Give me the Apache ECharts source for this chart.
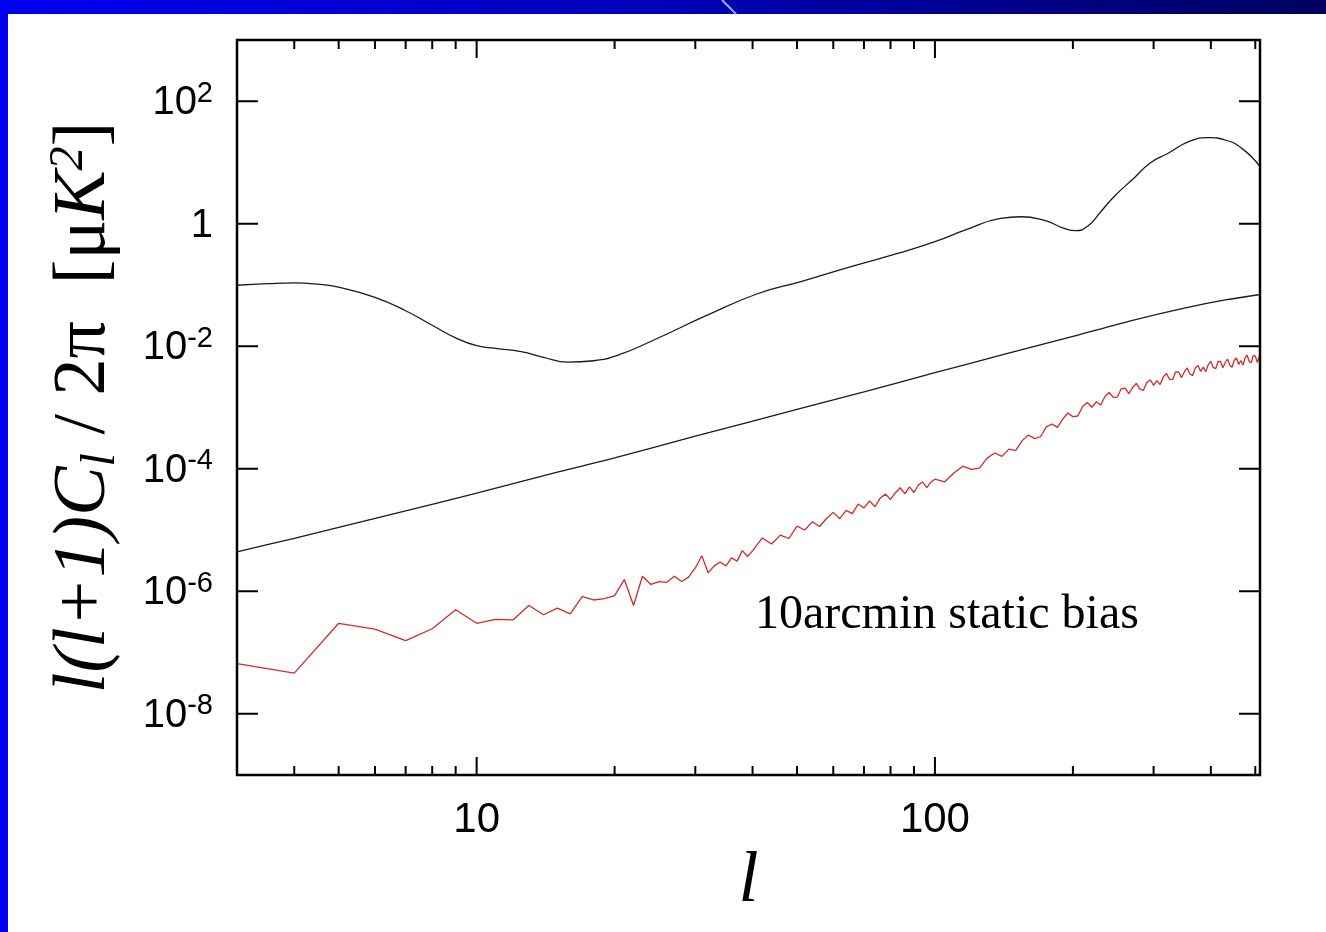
<!DOCTYPE html>
<html><head><meta charset="utf-8">
<script src="https://cdn.jsdelivr.net/npm/echarts@6/dist/echarts.min.js"></script>
<style>html,body{margin:0;padding:0;background:#fff}#c{width:1326px;height:932px}</style>
</head><body><div id="c"></div>
<script>
// ---- axis ranges and ticks ----
const X_MIN = 3, X_MAX = 512, Y_MIN = 1e-9, Y_MAX = 1e3;
const X_MAJOR_TICKS = [10, 100];
const X_MINOR_TICKS = [4, 5, 6, 7, 8, 9, 20, 30, 40, 50, 60, 70, 80, 90, 200, 300, 400, 500];
const Y_TICKS = [1e2, 1, 1e-2, 1e-4, 1e-6, 1e-8];
const Y_TICK_MANT = ['10', '1', '10', '10', '10', '10'];
const Y_TICK_EXP = ['2', '', '-2', '-4', '-6', '-8'];

// ---- upper black curve (signal spectrum) ----
const SIGNAL = [
  [3, 0.099], [3.5, 0.105], [4, 0.108], [4.5, 0.103], [5, 0.092], [6, 0.063], [7, 0.038], [8, 0.022],
  [9, 0.0137], [10, 0.0102], [11, 0.0092], [12.5, 0.0082], [14, 0.0066], [15.8, 0.0055], [18, 0.0058],
  [20.4, 0.0072], [24.5, 0.0129], [31.5, 0.031], [41, 0.072], [51, 0.114], [65.6, 0.20], [84, 0.337],
  [100, 0.51], [117, 0.80], [139, 1.22], [154, 1.30], [174, 1.12], [190, 0.86], [203, 0.77], [216, 0.93],
  [230, 1.57], [247, 2.86], [272, 5.6], [295, 9.85], [322, 14], [361, 22.5], [396, 25.4], [430, 23.3],
  [469, 16.7], [512, 8.6]
];

// ---- middle black line ----
const NOISE = [
  [3, 4.4e-6], [4, 7.3e-6], [5, 1.1e-5], [7, 2.05e-5], [10, 4.0e-5], [15, 8.8e-5], [20, 1.5e-4],
  [30, 3.4e-4], [50, 9.3e-4], [70, 1.8e-3], [100, 3.7e-3], [140, 7.2e-3], [200, 1.45e-2],
  [270, 2.65e-2], [350, 4.2e-2], [430, 5.7e-2], [512, 7.0e-2]
];

// ---- red curve: 10arcmin static bias ----
const BIAS = [
  [3, 6.6e-8], [4, 4.6e-8], [5, 3.0e-7], [6, 2.4e-7], [7, 1.56e-7], [8, 2.44e-7], [9, 5.0e-7], [10, 3.0e-7],
  [11, 3.47e-7], [12, 3.4e-7], [13, 5.85e-7], [14, 4.13e-7], [15, 5.3e-7], [16, 4.28e-7], [17, 8.2e-7],
  [18, 7.2e-7], [19, 7.6e-7], [20, 8.5e-7], [21, 1.55e-6], [22, 5.85e-7], [23, 1.76e-6], [24, 1.29e-6],
  [25, 1.44e-6], [26, 1.4e-6], [27, 1.76e-6], [28, 1.44e-6], [29, 1.7e-6], [30, 2.4e-6], [31, 3.8e-6],
  [32, 2.0e-6], [33, 2.6e-6], [34, 3.0e-6], [35, 2.6e-6], [36, 3.5e-6], [37, 3.1e-6], [38, 4.6e-6],
  [39, 3.7e-6], [40, 4.57e-6], [42, 7.41e-6], [44, 5.89e-6], [46, 8.26e-6], [48, 7.26e-6], [50, 1.16e-5],
  [52, 1.0e-5], [54, 1.36e-5], [56, 1.14e-5], [58, 1.54e-5], [60, 1.94e-5], [62, 1.53e-5], [64, 2.09e-5],
  [66, 1.85e-5], [68, 2.65e-5], [70, 2.29e-5], [72, 2.99e-5], [74, 2.40e-5], [76, 3.34e-5], [78, 3.85e-5],
  [80, 3.15e-5], [82, 4.06e-5], [84, 4.90e-5], [86, 3.91e-5], [88, 5.05e-5], [90, 4.10e-5], [92, 5.42e-5],
  [94, 6.07e-5], [96, 4.93e-5], [98, 6.04e-5],
  [100, 6.76e-5], [105, 6.12e-5], [110, 8.53e-5], [115, 1.10e-4], [120, 9.77e-5], [125, 1.02e-4],
  [130, 1.49e-4], [135, 1.81e-4], [140, 1.59e-4], [145, 2.09e-4], [150, 1.98e-4], [155, 2.88e-4],
  [160, 3.56e-4], [165, 3.11e-4], [170, 3.33e-4], [175, 4.82e-4], [180, 5.37e-4], [185, 4.73e-4],
  [190, 6.44e-4], [195, 8.13e-4], [200, 7.10e-4], [205, 7.26e-4], [210, 1.04e-3], [215, 1.21e-3],
  [220, 1.01e-3], [225, 1.24e-3], [230, 1.10e-3], [235, 1.51e-3], [240, 1.76e-3], [245, 1.46e-3],
  [250, 1.48e-3], [255, 2.02e-3], [260, 2.08e-3], [265, 1.69e-3], [270, 2.12e-3], [275, 2.48e-3],
  [280, 2.00e-3], [285, 1.91e-3], [290, 2.55e-3], [295, 2.84e-3], [300, 2.30e-3], [305, 2.74e-3],
  [310, 2.37e-3], [315, 3.16e-3], [320, 3.59e-3], [325, 2.88e-3], [330, 2.85e-3], [335, 3.79e-3],
  [340, 3.83e-3], [345, 3.07e-3], [350, 3.81e-3], [355, 4.42e-3], [360, 3.53e-3], [365, 3.32e-3],
  [370, 4.41e-3], [375, 4.86e-3], [380, 3.89e-3], [385, 4.55e-3], [390, 3.85e-3], [395, 5.06e-3],
  [400, 5.64e-3], [405, 4.46e-3], [410, 4.32e-3], [415, 5.68e-3], [420, 5.64e-3], [425, 4.45e-3],
  [430, 5.43e-3], [435, 6.19e-3], [440, 4.89e-3], [445, 4.53e-3], [450, 5.92e-3], [455, 6.43e-3],
  [460, 5.05e-3], [465, 5.86e-3], [470, 4.94e-3], [475, 6.44e-3], [480, 7.14e-3], [485, 5.61e-3],
  [490, 5.42e-3], [495, 7.05e-3], [500, 6.97e-3], [505, 5.47e-3], [510, 6.65e-3], [512, 7.16e-3]
];

const ANNOTATION = '10arcmin static bias';

const chart = echarts.init(document.getElementById('c'), null, {renderer: 'canvas'});

const LABEL_FONT = '"Liberation Sans", Arial, sans-serif';
const SERIF = '"Liberation Serif", "Times New Roman", serif';

function xTickSeries(name, ticks, len) {
  return {
    type: 'custom', name: name, silent: true, clip: false, z: 6,
    data: ticks.map(v => [v, Y_MIN]),
    encode: {x: 0, y: 1},
    renderItem: function (params, api) {
      const b = api.coord([api.value(0), Y_MIN]);
      const t = api.coord([api.value(0), Y_MAX]);
      return {type: 'group', children: [
        {type: 'line', shape: {x1: b[0], y1: b[1], x2: b[0], y2: b[1] - len}, style: {stroke: '#000', lineWidth: 2}},
        {type: 'line', shape: {x1: t[0], y1: t[1], x2: t[0], y2: t[1] + len}, style: {stroke: '#000', lineWidth: 2}}
      ]};
    }
  };
}

const yTickSeries = {
  type: 'custom', name: 'yTicks', silent: true, clip: false, z: 6,
  data: Y_TICKS.map(v => [X_MIN, v]),
  encode: {x: 0, y: 1},
  renderItem: function (params, api) {
    const i = params.dataIndex;
    const l = api.coord([X_MIN, api.value(1)]);
    const r = api.coord([X_MAX, api.value(1)]);
    const txt = Y_TICK_EXP[i] ? '{m|' + Y_TICK_MANT[i] + '}{e|' + Y_TICK_EXP[i] + '}' : '{m|' + Y_TICK_MANT[i] + '}';
    return {type: 'group', children: [
      {type: 'line', shape: {x1: l[0], y1: l[1], x2: l[0] + 21, y2: l[1]}, style: {stroke: '#000', lineWidth: 2}},
      {type: 'line', shape: {x1: r[0], y1: r[1], x2: r[0] - 21, y2: r[1]}, style: {stroke: '#000', lineWidth: 2}},
      {type: 'text', x: l[0] - 24, y: l[1] + 2, style: {
        text: txt, align: 'right', verticalAlign: 'middle', fill: '#000',
        rich: {
          m: {fontSize: 40, fontFamily: LABEL_FONT, fill: '#000', lineHeight: 48},
          e: {fontSize: 29, fontFamily: LABEL_FONT, fill: '#000', lineHeight: 26, verticalAlign: 'top'}
        }
      }}
    ]};
  }
};

const option = {
  animation: false,
  backgroundColor: '#ffffff',
  grid: {left: 237, right: 66, top: 40, bottom: 157, show: true, borderColor: '#000', borderWidth: 2.5, backgroundColor: 'transparent', z: 5},
  xAxis: {
    type: 'log', logBase: 10, min: X_MIN, max: X_MAX,
    name: 'l', nameLocation: 'middle', nameGap: 70,
    nameTextStyle: {fontFamily: SERIF, fontStyle: 'italic', fontSize: 72, color: '#000'},
    axisLine: {show: false}, axisTick: {show: false}, splitLine: {show: false},
    axisLabel: {
      show: true, margin: 24, fontSize: 42, fontFamily: LABEL_FONT, color: '#000',
      showMinLabel: false, showMaxLabel: false,
      formatter: function (v) {
        for (const t of X_MAJOR_TICKS) { if (Math.abs(v - t) < 1e-6 * t) return String(t); }
        return '';
      }
    }
  },
  yAxis: {
    type: 'log', logBase: 10, min: Y_MIN, max: Y_MAX,
    name: '{it|l(l+1)C}{sub|l}{rm| / 2π  [μ}{it|K}{sup|2}{rm|]}',
    nameLocation: 'middle', nameRotate: 90, nameGap: 112,
    nameTextStyle: {
      color: '#000', fontSize: 74, fontFamily: SERIF,
      rich: {
        it: {fontFamily: SERIF, fontStyle: 'italic', fontSize: 74, color: '#000', lineHeight: 80},
        rm: {fontFamily: SERIF, fontSize: 74, color: '#000', lineHeight: 80},
        sub: {fontFamily: SERIF, fontStyle: 'italic', fontSize: 48, color: '#000', verticalAlign: 'bottom', lineHeight: 38},
        sup: {fontFamily: SERIF, fontStyle: 'italic', fontSize: 48, color: '#000', verticalAlign: 'top', lineHeight: 40}
      }
    },
    axisLine: {show: false}, axisTick: {show: false}, splitLine: {show: false}, axisLabel: {show: false}
  },
  graphic: [
    {type: 'rect', left: 0, top: 0, shape: {width: 8, height: 932}, style: {fill: '#0000ec'}, z: 100},
    {type: 'rect', left: 0, top: 0, shape: {width: 1326, height: 14}, style: {
      fill: new echarts.graphic.LinearGradient(0, 0, 1, 0, [{offset: 0, color: '#0000f0'}, {offset: 0.5, color: '#0000b8'}, {offset: 1, color: '#000060'}])
    }, z: 100},
    {type: 'line', shape: {x1: 722, y1: 0, x2: 736, y2: 14}, style: {stroke: '#8fb0ff', lineWidth: 2}, z: 101},
    {type: 'text', x: 755, y: 615, style: {text: ANNOTATION, font: '48px ' + SERIF, fill: '#000', verticalAlign: 'middle', align: 'left'}, z: 50}
  ],
  series: [
    {type: 'line', name: 'signal', data: SIGNAL, showSymbol: false, smooth: 0.5, lineStyle: {color: '#1a1a1a', width: 1.3}, z: 3},
    {type: 'line', name: 'noise', data: NOISE, showSymbol: false, smooth: 0.3, lineStyle: {color: '#1a1a1a', width: 1.3}, z: 3},
    {type: 'line', name: 'bias', data: BIAS, showSymbol: false, lineStyle: {color: '#d42a2a', width: 1.3}, z: 4},
    xTickSeries('xMajorTicks', X_MAJOR_TICKS, 18),
    xTickSeries('xMinorTicks', X_MINOR_TICKS, 9),
    yTickSeries
  ]
};
chart.setOption(option);
</script>
</body></html>
